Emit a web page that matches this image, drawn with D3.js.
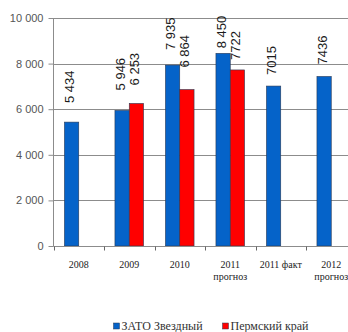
<!DOCTYPE html>
<html><head><meta charset="utf-8">
<script src="https://cdn.jsdelivr.net/npm/d3@7"></script>
<style>body{margin:0;background:#fff;overflow:hidden}svg{display:block}
.serif{font-family:'Liberation Serif','DejaVu Serif',serif}
.sans{font-family:'Liberation Sans',Arial,sans-serif}</style>
</head><body>
<script>
const categories = [["2008"],["2009"],["2010"],["2011","прогноз"],["2011 факт"],["2012","прогноз"]];
const seriesNames = ["ЗАТО Звездный","Пермский край"];
const zatoValues = [5434, 5946, 7935, 8450, 7015, 7436];
const permValues = [null, 6253, 6864, 7722, null, null];
const zatoLabels = ["5 434","5 946","7 935","8 450","7015","7436"];
const permLabels = [null,"6 253","6 864","7722",null,null];
const yTicks = [0,2000,4000,6000,8000,10000];
const yTickLabels = ["0","2 000","4 000","6 000","8 000","10 000"];
// label gaps above bars (layout, not data)
const zatoGap = [19,20,15,5,11,12];
const permGap = [0,18,22,10,0,0];

const W=348,H=332;
const svg=d3.select("body").append("svg").attr("width",W).attr("height",H);
const x=d3.scaleBand().domain(d3.range(categories.length)).range([53.5,356.5]).paddingInner(0).paddingOuter(0);
const y=d3.scaleLinear().domain([0,10000]).range([246,18]);
const bw=14.3;
const colors=["#0563C9","#FF0000"];

// gridlines
svg.append("g").selectAll("line").data(yTicks.filter(d=>d>0)).join("line")
 .attr("x1",53.5).attr("x2",W).attr("y1",d=>Math.round(y(d))+0.5).attr("y2",d=>Math.round(y(d))+0.5)
 .attr("stroke","#8c8c8c").attr("stroke-width",1);

// y axis
const yAxis=d3.axisLeft(y).tickValues(yTicks).tickFormat((d,i)=>yTickLabels[i]).tickSize(5).tickPadding(5);
const gy=svg.append("g").attr("transform","translate(53.5,0)").call(yAxis);
gy.attr("font-family",null);
gy.select(".domain").attr("stroke","#8c8c8c").attr("d","M0,18V246.5");
gy.selectAll(".tick line").attr("stroke","#8c8c8c");
gy.selectAll(".tick text").attr("class","sans").attr("font-size","11px").attr("fill","#555");

// bars
const g=svg.append("g");
categories.forEach((c,i)=>{
  const cx=x(i)+x.bandwidth()/2;
  const vals=[zatoValues[i],permValues[i]];
  const labs=[zatoLabels[i],permLabels[i]];
  const gaps=[zatoGap[i],permGap[i]];
  const start=cx-bw;
  vals.forEach((v,k)=>{
    if(v==null) return;
    const bx=start+k*bw;
    g.append("rect").attr("x",bx).attr("y",y(v)).attr("width",bw).attr("height",y(0)-y(v))
     .attr("fill",colors[k]).attr("stroke","#2a3a55").attr("stroke-width",0.6);
    const tx=bx+bw/2-1, ty=y(v)-gaps[k];
    g.append("text").attr("class","sans").attr("transform",`translate(${tx},${ty}) rotate(-90)`)
     .attr("dominant-baseline","middle").attr("text-anchor","start")
     .attr("font-size","13px").attr("fill","#1a1a1a")
     .text(labs[k]);
  });
});

// x axis
const gx=svg.append("g").attr("transform","translate(0,246.5)");
gx.append("line").attr("x1",53.5).attr("x2",W).attr("stroke","#8c8c8c");
gx.selectAll("line.t").data(d3.range(categories.length+1)).join("line").attr("class","t")
 .attr("x1",i=>Math.round(53.5+i*x.bandwidth())+0.5).attr("x2",i=>Math.round(53.5+i*x.bandwidth())+0.5)
 .attr("y1",0).attr("y2",4).attr("stroke","#666");
categories.forEach((c,i)=>{
  const t=gx.append("text").attr("class","serif").attr("x",x(i)+x.bandwidth()/2).attr("y",21)
   .attr("text-anchor","middle").attr("font-size","10px").attr("fill","#222");
  c.forEach((line,j)=>t.append("tspan").attr("x",x(i)+x.bandwidth()/2).attr("dy",j?12:0).text(line));
});

// legend
const lx=[113.5,222.5];
seriesNames.forEach((s,k)=>{
  svg.append("rect").attr("x",lx[k]).attr("y",323).attr("width",6).attr("height",6).attr("fill",colors[k]).attr("stroke","#2a3a55").attr("stroke-width",0.5);
  svg.append("text").attr("class","serif").attr("x",lx[k]+8).attr("y",330).attr("font-size","12px").attr("fill","#333").text(s);
});
</script>
</body></html>
